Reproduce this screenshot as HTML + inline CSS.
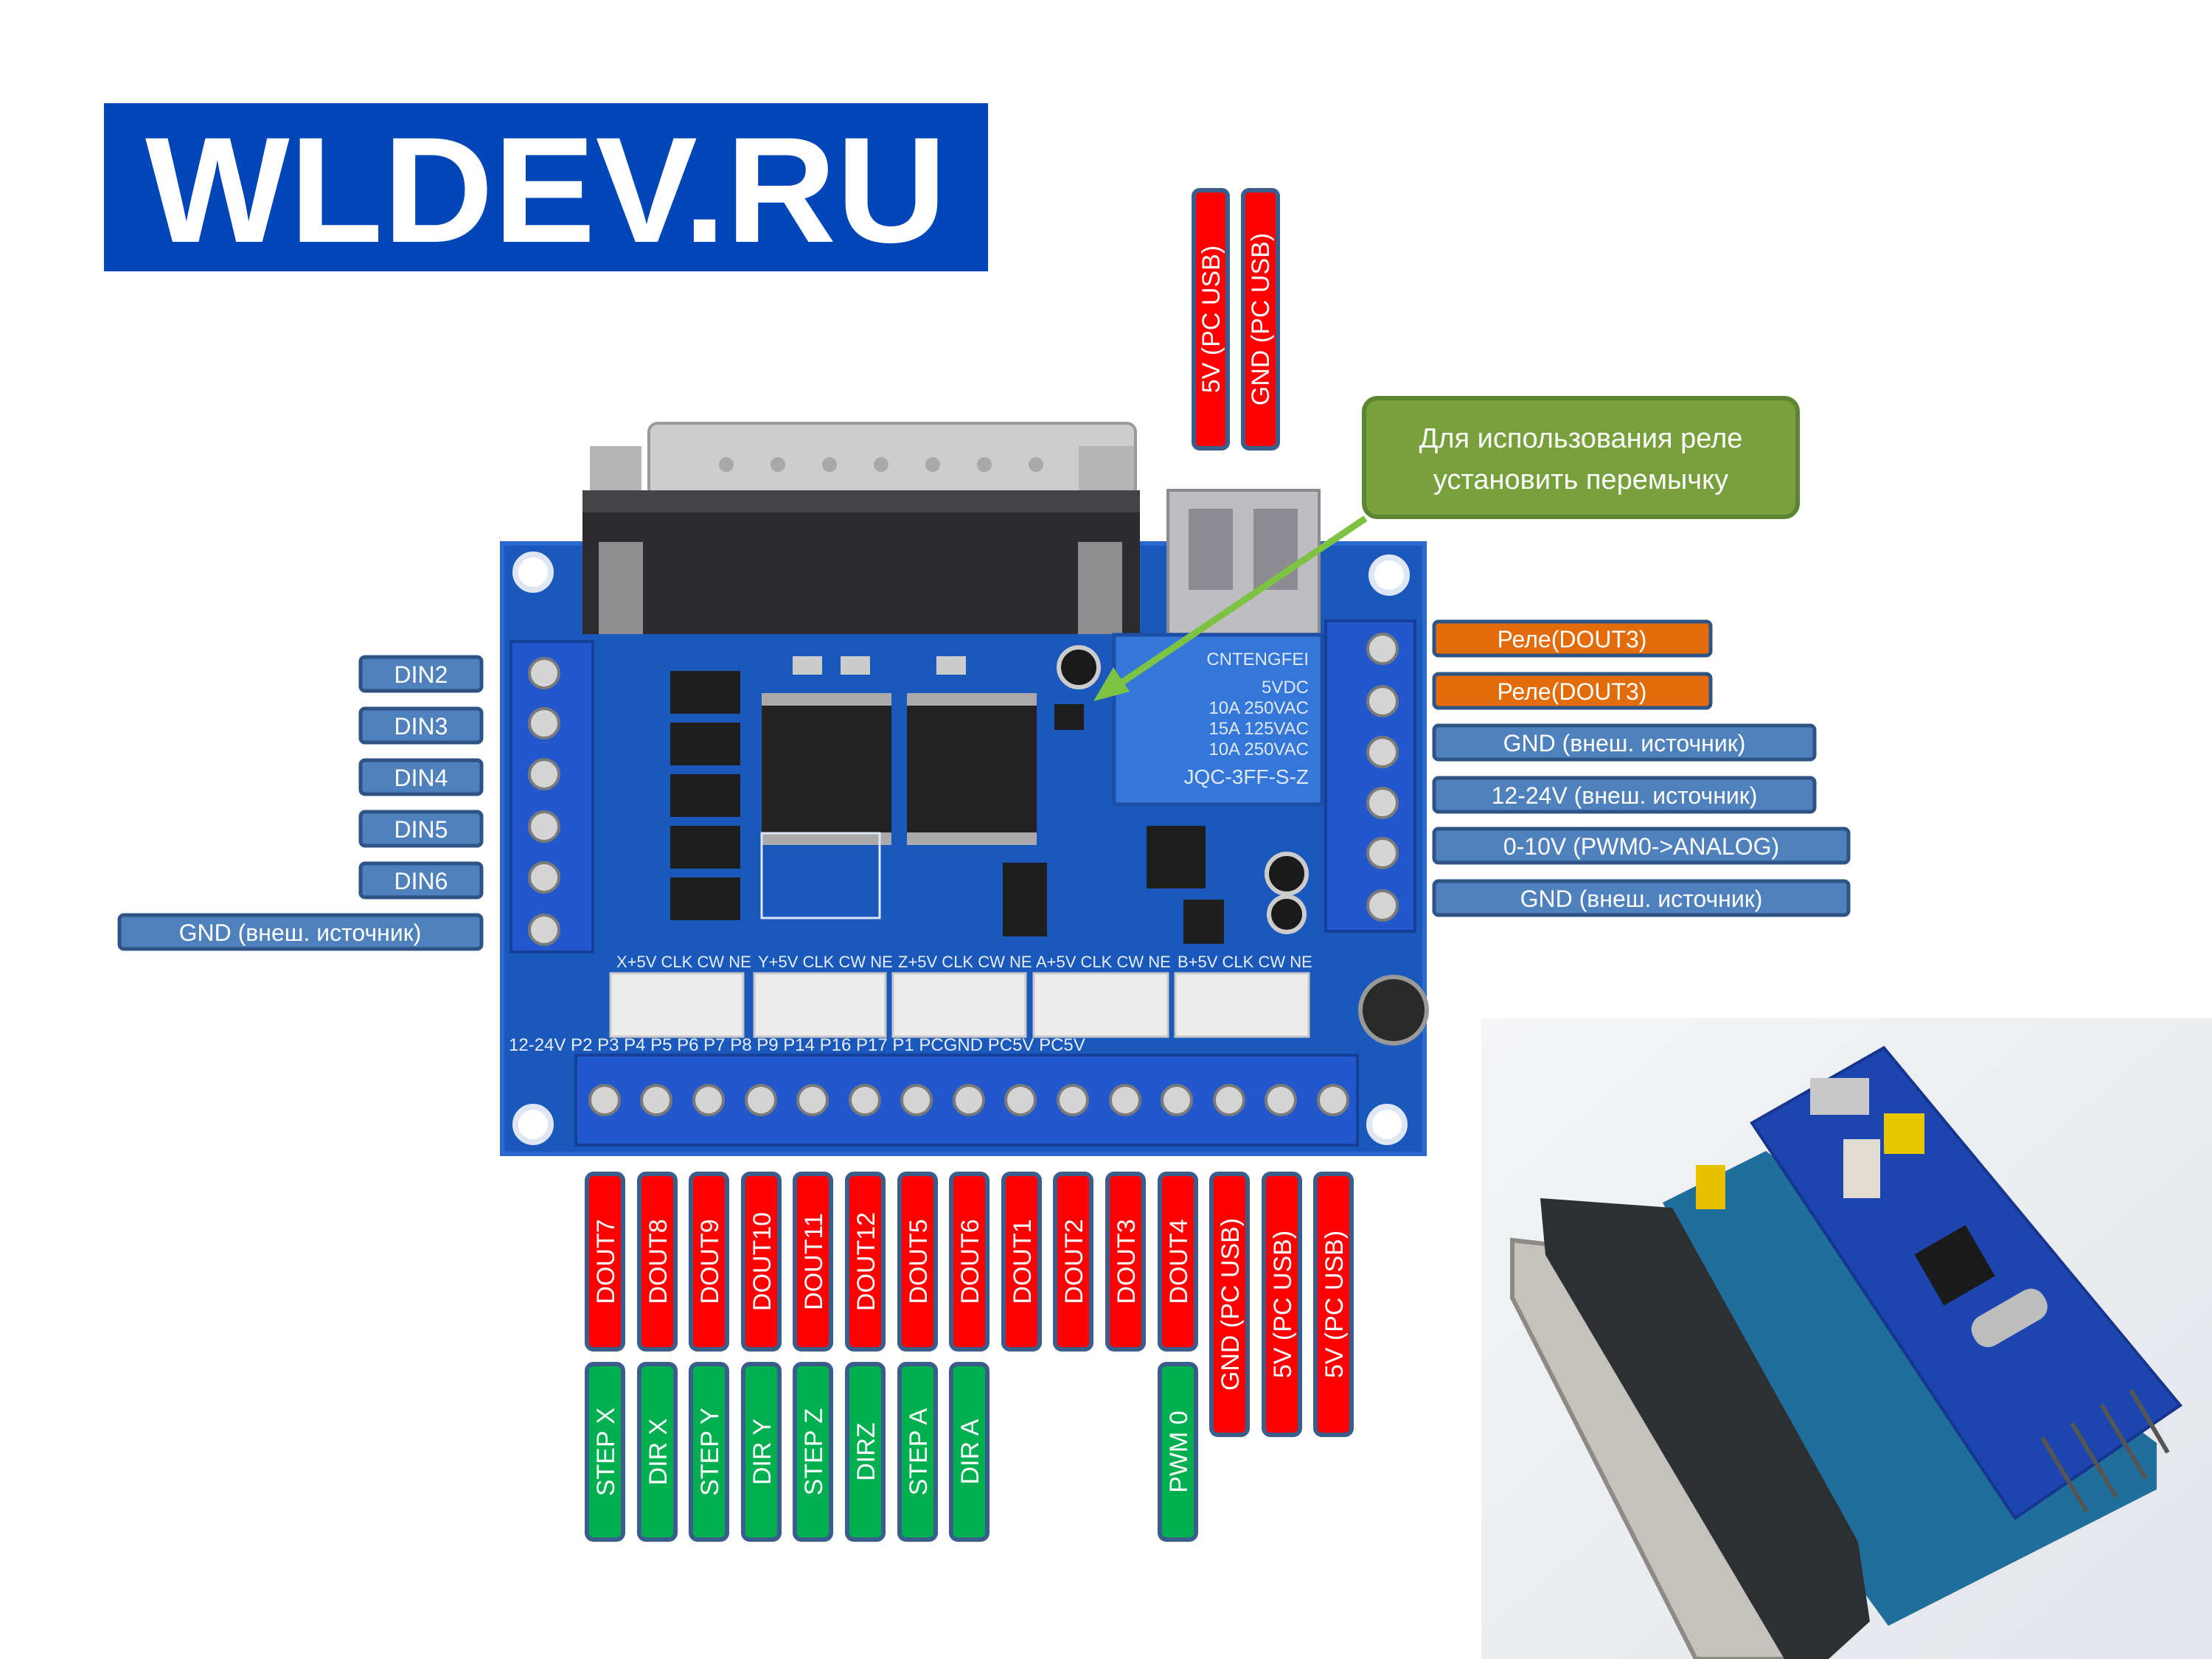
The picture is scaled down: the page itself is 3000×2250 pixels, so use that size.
<!DOCTYPE html>
<html><head><meta charset="utf-8"><style>
html,body{margin:0;padding:0;background:#fff;}
svg{display:block;}
text{font-family:"Liberation Sans","DejaVu Sans",sans-serif;}
</style></head><body>
<svg width="3000" height="2250" viewBox="0 0 3000 2250" xmlns="http://www.w3.org/2000/svg">
<rect width="3000" height="2250" fill="#fff"/>
<!-- Logo -->
<rect x="141" y="140" width="1199" height="228" fill="#0046b8"/>
<text x="197" y="328" font-size="204" font-weight="bold" fill="#fff" textLength="1087" lengthAdjust="spacingAndGlyphs">WLDEV.RU</text>

<!-- Top vertical labels -->
<g font-size="34" fill="#fff" text-anchor="middle">
<rect x="1619" y="258" width="46" height="350" rx="8" fill="#ff0000" stroke="#3a5e8c" stroke-width="6"/>
<text transform="translate(1654,433) rotate(-90)">5V (PC USB)</text>
<rect x="1686" y="258" width="47" height="350" rx="8" fill="#ff0000" stroke="#3a5e8c" stroke-width="6"/>
<text transform="translate(1721,433) rotate(-90)">GND (PC USB)</text>
</g>

<!-- Green callout -->
<rect x="1850" y="540" width="588" height="161" rx="18" fill="#77a03c" stroke="#5d8430" stroke-width="6"/>
<text x="2144" y="607" font-size="38" fill="#fff" text-anchor="middle">Для использования реле</text>
<text x="2144" y="663" font-size="38" fill="#fff" text-anchor="middle">установить перемычку</text>

<!-- Board -->
<rect x="681" y="737" width="1251" height="828" fill="#1a58bc"/>
<rect x="681" y="737" width="1251" height="828" fill="none" stroke="#2a6ad0" stroke-width="6"/>
<!-- DB25 -->
<rect x="880" y="574" width="660" height="110" rx="12" fill="#cdcdcd" stroke="#9a9a9a" stroke-width="4"/>
<g fill="#a9a9a9">
<circle cx="985" cy="630" r="10"/><circle cx="1055" cy="630" r="10"/><circle cx="1125" cy="630" r="10"/><circle cx="1195" cy="630" r="10"/><circle cx="1265" cy="630" r="10"/><circle cx="1335" cy="630" r="10"/><circle cx="1405" cy="630" r="10"/>
</g>
<rect x="800" y="605" width="70" height="100" fill="#b5b5b5"/>
<rect x="1463" y="605" width="75" height="100" fill="#b5b5b5"/>
<rect x="790" y="665" width="756" height="195" fill="#2c2c30"/>
<rect x="790" y="665" width="756" height="30" fill="#444448"/>
<rect x="812" y="735" width="60" height="125" fill="#8e8e8e"/>
<rect x="1462" y="735" width="60" height="125" fill="#8e8e8e"/>
<!-- USB -->
<rect x="1584" y="665" width="205" height="195" fill="#bdbdc2" stroke="#8a8a90" stroke-width="4"/>
<rect x="1612" y="690" width="60" height="110" fill="#8c8c92"/><rect x="1700" y="690" width="60" height="110" fill="#8c8c92"/>
<!-- Relay -->
<rect x="1511" y="861" width="282" height="230" fill="#3477d8" stroke="#1b4fa5" stroke-width="5"/>
<g fill="#dfe8f7" font-size="24" text-anchor="end">
<text x="1775" y="902">CNTENGFEI</text><text x="1775" y="940">5VDC</text><text x="1775" y="968">10A 250VAC</text><text x="1775" y="996">15A 125VAC</text><text x="1775" y="1024">10A 250VAC</text><text x="1775" y="1063" font-size="28">JQC-3FF-S-Z</text>
</g>
<!-- Terminal blocks -->
<rect x="693" y="870" width="111" height="421" fill="#2258cc" stroke="#163f9a" stroke-width="4"/>
<rect x="1798" y="842" width="121" height="421" fill="#2258cc" stroke="#163f9a" stroke-width="4"/>
<rect x="781" y="1431" width="1060" height="122" fill="#2258cc" stroke="#163f9a" stroke-width="4"/>
<g fill="#d4d4d4" stroke="#7a7a7a" stroke-width="4">
<circle cx="738" cy="913" r="20"/><circle cx="738" cy="981" r="20"/><circle cx="738" cy="1050" r="20"/><circle cx="738" cy="1121" r="20"/><circle cx="738" cy="1190" r="20"/><circle cx="738" cy="1261" r="20"/>
<circle cx="1875" cy="880" r="20"/><circle cx="1875" cy="951" r="20"/><circle cx="1875" cy="1020" r="20"/><circle cx="1875" cy="1089" r="20"/><circle cx="1875" cy="1157" r="20"/><circle cx="1875" cy="1228" r="20"/>
<circle cx="820" cy="1492" r="20"/><circle cx="890" cy="1492" r="20"/><circle cx="961" cy="1492" r="20"/><circle cx="1032" cy="1492" r="20"/><circle cx="1102" cy="1492" r="20"/><circle cx="1173" cy="1492" r="20"/><circle cx="1243" cy="1492" r="20"/><circle cx="1314" cy="1492" r="20"/><circle cx="1384" cy="1492" r="20"/><circle cx="1455" cy="1492" r="20"/><circle cx="1526" cy="1492" r="20"/><circle cx="1596" cy="1492" r="20"/><circle cx="1667" cy="1492" r="20"/><circle cx="1737" cy="1492" r="20"/><circle cx="1808" cy="1492" r="20"/>
</g>
<!-- mounting holes -->
<g fill="#fff" stroke="#dfe6f3" stroke-width="8">
<circle cx="723" cy="776" r="24"/><circle cx="1884" cy="780" r="24"/><circle cx="723" cy="1525" r="24"/><circle cx="1881" cy="1525" r="24"/>
</g>
<!-- ICs -->
<rect x="1033" y="957" width="176" height="172" fill="#222"/>
<rect x="1230" y="957" width="176" height="172" fill="#222"/>
<rect x="1033" y="940" width="176" height="17" fill="#aaa"/><rect x="1033" y="1129" width="176" height="17" fill="#aaa"/>
<rect x="1230" y="940" width="176" height="17" fill="#aaa"/><rect x="1230" y="1129" width="176" height="17" fill="#aaa"/>
<!-- small resistor arrays -->
<rect x="1075" y="890" width="40" height="25" fill="#ccc"/><rect x="1140" y="890" width="40" height="25" fill="#ccc"/><rect x="1270" y="890" width="40" height="25" fill="#ccc"/>
<!-- optocouplers -->
<g fill="#1e1e1e">
<rect x="909" y="910" width="95" height="58"/><rect x="909" y="980" width="95" height="58"/><rect x="909" y="1050" width="95" height="58"/><rect x="909" y="1120" width="95" height="58"/><rect x="909" y="1190" width="95" height="58"/>
<rect x="1360" y="1170" width="60" height="100"/>
<rect x="1555" y="1120" width="80" height="85"/>
<rect x="1605" y="1220" width="55" height="60"/>
<rect x="1430" y="955" width="40" height="35"/>
</g>
<!-- capacitors -->
<circle cx="1463" cy="905" r="27" fill="#1a1a1a" stroke="#ccc" stroke-width="6"/>
<circle cx="1745" cy="1185" r="27" fill="#1a1a1a" stroke="#ccc" stroke-width="6"/>
<circle cx="1745" cy="1240" r="24" fill="#1a1a1a" stroke="#ccc" stroke-width="6"/>
<circle cx="1890" cy="1370" r="45" fill="#2a2a2a" stroke="#999" stroke-width="6"/>
<!-- table silk -->
<rect x="1033" y="1130" width="160" height="115" fill="none" stroke="#dbe6f8" stroke-width="3"/>
<!-- white connectors -->
<g fill="#ececec" stroke="#c8c8c8" stroke-width="3">
<rect x="828" y="1320" width="180" height="86"/><rect x="1023" y="1320" width="178" height="86"/><rect x="1211" y="1320" width="180" height="86"/><rect x="1402" y="1320" width="182" height="86"/><rect x="1594" y="1320" width="181" height="86"/>
</g>
<g fill="#e8eef8" font-size="22">
<text x="836" y="1312">X+5V CLK CW  NE</text><text x="1028" y="1312">Y+5V CLK CW  NE</text><text x="1218" y="1312">Z+5V CLK CW  NE</text><text x="1405" y="1312">A+5V CLK CW  NE</text><text x="1597" y="1312">B+5V CLK CW  NE</text>
<text x="690" y="1425" font-size="24">12-24V  P2    P3     P4     P5     P6     P7     P8     P9   P14   P16   P17   P1  PCGND PC5V PC5V</text>
</g>
<!-- arrow -->
<line x1="1852" y1="703" x2="1500" y2="940" stroke="#7dc242" stroke-width="9"/>
<polygon points="1483,951 1510,905 1532,938" fill="#7dc242"/>

<!-- Left labels -->
<g font-size="32" fill="#fff" text-anchor="middle">
<g fill="#4f81bd" stroke="#2e5486" stroke-width="5">
<rect x="489" y="891" width="164" height="46" rx="6"/>
<rect x="489" y="961" width="164" height="46" rx="6"/>
<rect x="489" y="1031" width="164" height="46" rx="6"/>
<rect x="489" y="1101" width="164" height="46" rx="6"/>
<rect x="489" y="1171" width="164" height="46" rx="6"/>
<rect x="162" y="1241" width="491" height="46" rx="6"/>
</g>
<text x="571" y="926">DIN2</text><text x="571" y="996">DIN3</text><text x="571" y="1066">DIN4</text><text x="571" y="1136">DIN5</text><text x="571" y="1206">DIN6</text>
<text x="407" y="1276">GND (внеш. источник)</text>
</g>

<!-- Right labels -->
<g font-size="32" fill="#fff" text-anchor="middle">
<rect x="1945" y="843" width="375" height="46" rx="6" fill="#e36c0a" stroke="#2e5486" stroke-width="5"/>
<rect x="1945" y="914" width="375" height="46" rx="6" fill="#e36c0a" stroke="#2e5486" stroke-width="5"/>
<g fill="#4f81bd" stroke="#2e5486" stroke-width="5">
<rect x="1945" y="984" width="516" height="46" rx="6"/>
<rect x="1945" y="1055" width="516" height="46" rx="6"/>
<rect x="1945" y="1124" width="562" height="46" rx="6"/>
<rect x="1945" y="1195" width="562" height="46" rx="6"/>
</g>
<text x="2132" y="878">Реле(DOUT3)</text><text x="2132" y="949">Реле(DOUT3)</text>
<text x="2203" y="1019">GND (внеш. источник)</text>
<text x="2203" y="1090">12-24V (внеш. источник)</text>
<text x="2226" y="1159">0-10V (PWM0-&gt;ANALOG)</text>
<text x="2226" y="1230">GND (внеш. источник)</text>
</g>

<!-- Bottom vertical labels -->
<g font-size="34" fill="#fff" text-anchor="middle" stroke="#3a5e8c" stroke-width="6">
<g fill="#ff0000">
<rect x="796" y="1592" width="49" height="238" rx="9"/>
<rect x="867" y="1592" width="49" height="238" rx="9"/>
<rect x="937" y="1592" width="49" height="238" rx="9"/>
<rect x="1008" y="1592" width="49" height="238" rx="9"/>
<rect x="1078" y="1592" width="49" height="238" rx="9"/>
<rect x="1149" y="1592" width="49" height="238" rx="9"/>
<rect x="1220" y="1592" width="49" height="238" rx="9"/>
<rect x="1290" y="1592" width="49" height="238" rx="9"/>
<rect x="1361" y="1592" width="49" height="238" rx="9"/>
<rect x="1431" y="1592" width="49" height="238" rx="9"/>
<rect x="1502" y="1592" width="49" height="238" rx="9"/>
<rect x="1573" y="1592" width="49" height="238" rx="9"/>
<rect x="1643" y="1592" width="49" height="354" rx="9"/>
<rect x="1714" y="1592" width="49" height="354" rx="9"/>
<rect x="1784" y="1592" width="49" height="354" rx="9"/>
</g>
<g fill="#00b050">
<rect x="796" y="1850" width="49" height="238" rx="9"/>
<rect x="867" y="1850" width="49" height="238" rx="9"/>
<rect x="937" y="1850" width="49" height="238" rx="9"/>
<rect x="1008" y="1850" width="49" height="238" rx="9"/>
<rect x="1078" y="1850" width="49" height="238" rx="9"/>
<rect x="1149" y="1850" width="49" height="238" rx="9"/>
<rect x="1220" y="1850" width="49" height="238" rx="9"/>
<rect x="1290" y="1850" width="49" height="238" rx="9"/>
<rect x="1573" y="1850" width="49" height="238" rx="9"/>
</g>
</g>
<g font-size="34" fill="#fff" text-anchor="middle">
<text transform="translate(833,1711) rotate(-90)">DOUT7</text>
<text transform="translate(904,1711) rotate(-90)">DOUT8</text>
<text transform="translate(974,1711) rotate(-90)">DOUT9</text>
<text transform="translate(1045,1711) rotate(-90)">DOUT10</text>
<text transform="translate(1115,1711) rotate(-90)">DOUT11</text>
<text transform="translate(1186,1711) rotate(-90)">DOUT12</text>
<text transform="translate(1257,1711) rotate(-90)">DOUT5</text>
<text transform="translate(1327,1711) rotate(-90)">DOUT6</text>
<text transform="translate(1398,1711) rotate(-90)">DOUT1</text>
<text transform="translate(1468,1711) rotate(-90)">DOUT2</text>
<text transform="translate(1539,1711) rotate(-90)">DOUT3</text>
<text transform="translate(1610,1711) rotate(-90)">DOUT4</text>
<text transform="translate(1680,1769) rotate(-90)">GND  (PC USB)</text>
<text transform="translate(1751,1769) rotate(-90)">5V (PC USB)</text>
<text transform="translate(1821,1769) rotate(-90)">5V (PC USB)</text>
<text transform="translate(833,1969) rotate(-90)">STEP X</text>
<text transform="translate(904,1969) rotate(-90)">DIR X</text>
<text transform="translate(974,1969) rotate(-90)">STEP Y</text>
<text transform="translate(1045,1969) rotate(-90)">DIR Y</text>
<text transform="translate(1115,1969) rotate(-90)">STEP Z</text>
<text transform="translate(1186,1969) rotate(-90)">DIRZ</text>
<text transform="translate(1257,1969) rotate(-90)">STEP A</text>
<text transform="translate(1327,1969) rotate(-90)">DIR A</text>
<text transform="translate(1610,1969) rotate(-90)">PWM 0</text>
</g>

<!-- Photo bottom right -->
<defs><linearGradient id="bg" x1="0" y1="0" x2="1" y2="1"><stop offset="0" stop-color="#f4f5f7"/><stop offset="1" stop-color="#e2e5ea"/></linearGradient></defs>
<rect x="2009" y="1381" width="991" height="869" fill="url(#bg)"/>
<polygon points="2051,1682 2166,1695 2445,2250 2300,2250 2051,1760" fill="#c4c2bd" stroke="#8d8a85" stroke-width="6"/>
<polygon points="2255,1631 2395,1561 2925,1957 2925,2020 2561,2205 2510,2135" fill="#1f6e9c"/>
<polygon points="2089,1625 2268,1638 2520,2091 2536,2199 2480,2250 2420,2250 2096,1702" fill="#2e2f33"/>
<polygon points="2376,1523 2555,1421 2957,1906 2733,2059" fill="#1d45b0" stroke="#16358c" stroke-width="4"/>
<rect x="2611" y="1676" width="80" height="80" fill="#1a1a1a" transform="rotate(-30 2651 1716)"/>
<rect x="2670" y="1765" width="110" height="45" rx="20" fill="#bdbdbd" transform="rotate(-30 2725 1787)"/>
<rect x="2455" y="1462" width="80" height="50" fill="#c8c8c8"/>
<rect x="2300" y="1580" width="40" height="60" fill="#e8c200"/>
<rect x="2555" y="1510" width="55" height="55" fill="#e6c800"/>
<rect x="2500" y="1545" width="50" height="80" fill="#e0dcd2"/>
<g stroke="#555" stroke-width="6"><line x1="2770" y1="1950" x2="2830" y2="2050"/><line x1="2810" y1="1930" x2="2870" y2="2030"/><line x1="2850" y1="1905" x2="2910" y2="2005"/><line x1="2890" y1="1885" x2="2940" y2="1970"/></g>
</svg>
</body></html>
